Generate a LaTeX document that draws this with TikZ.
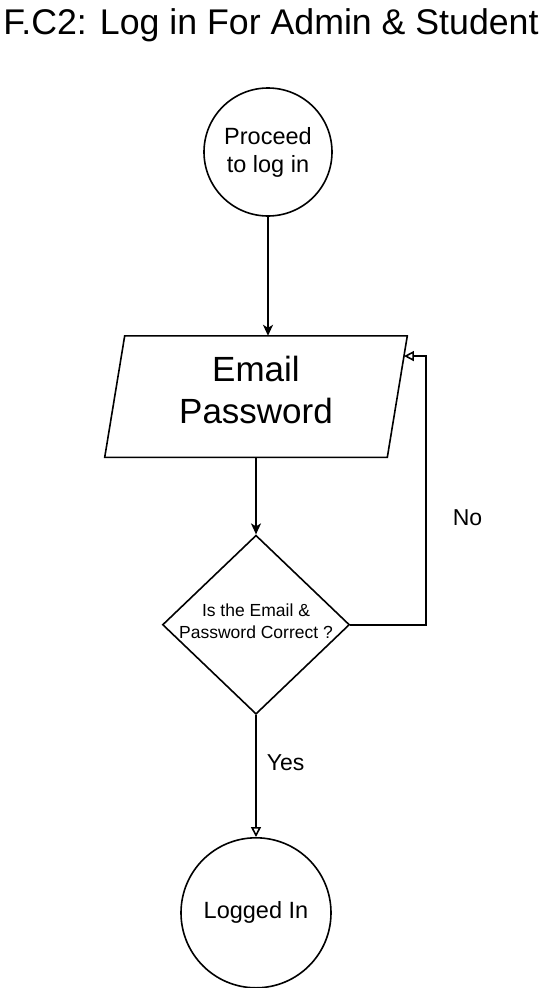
\documentclass[tikz,border=0pt]{standalone}
\usepackage{fontspec}
\setmainfont{Liberation Sans}
\usepackage{tikz}
\usetikzlibrary{positioning, arrows.meta, calc, shapes.geometric}
\tikzset{
	->,
	>={Stealth[length=11pt, width=10pt, inset=3pt]},
	open/.style={-{Triangle[open, length=10pt, width=10pt]}},
	every node/.style={inner sep=0pt},
	term/.style={circle, draw, line width=1.6pt, align=center, font=\fontsize{23.5}{28}\selectfont},
	io/.style={rectangle, minimum width=281pt, minimum height=120pt},
	decision/.style={diamond, draw, line width=1.6pt, minimum width=187pt, minimum height=179pt},
	bigtxt/.style={align=center, font=\fontsize{35}{42}\selectfont},
	smalltxt/.style={align=center, font=\fontsize{17.5}{22}\selectfont},
	lbl/.style={font=\fontsize{23}{28}\selectfont},
}

\begin{document}
\begin{tikzpicture}[x=1pt, y=-1pt, line width=1.6pt]
			\useasboundingbox (0,0) rectangle (541,988);
			\node[anchor=base, font=\fontsize{35.7}{42}\selectfont] (TITLE) at (271,34.5) {F.C2: Log in For Admin \& Student};
			\node[term, minimum size=128pt] (START) at (268,152) {Proceed\\to log in};
			\node[io, below=119pt of START, xshift=-12pt] (INPUT) {};
			\node[bigtxt] (INPUTTXT) at ([yshift=7pt]INPUT.center) {Email\\Password};
			\node[decision, below=77pt of INPUT] (CHECK) {\phantom{M}};
			\node[smalltxt] (CHECKTXT) at ([yshift=3pt]CHECK.center) {Is the Email \&\\Password Correct ?};
			\node[term, minimum size=150pt, below=122pt of CHECK] (LOGGED) {Logged In};
			% parallelogram round the input node
			\draw[-] ([xshift=10pt]INPUT.north west) -- ([xshift=10pt]INPUT.north east) -- ([xshift=-10pt]INPUT.south east) -- ([xshift=-10pt]INPUT.south west) -- cycle;
			\coordinate (NOTIP) at ($([xshift=10pt]INPUT.north east)!1/6!([xshift=-10pt]INPUT.south east)$);
			
			\draw (START) -- (START |- INPUT.north);
			\draw (INPUT) -- (CHECK);
			\draw[open] (CHECK.east) -| node[lbl, pos=0.7, right=26pt] (NO) {No} ([xshift=22pt]NOTIP) -- (NOTIP);
			\draw[open] (CHECK) -- node[lbl, pos=0.39, right=10pt] (YES) {Yes} (LOGGED);
		\end{tikzpicture}
\end{document}
